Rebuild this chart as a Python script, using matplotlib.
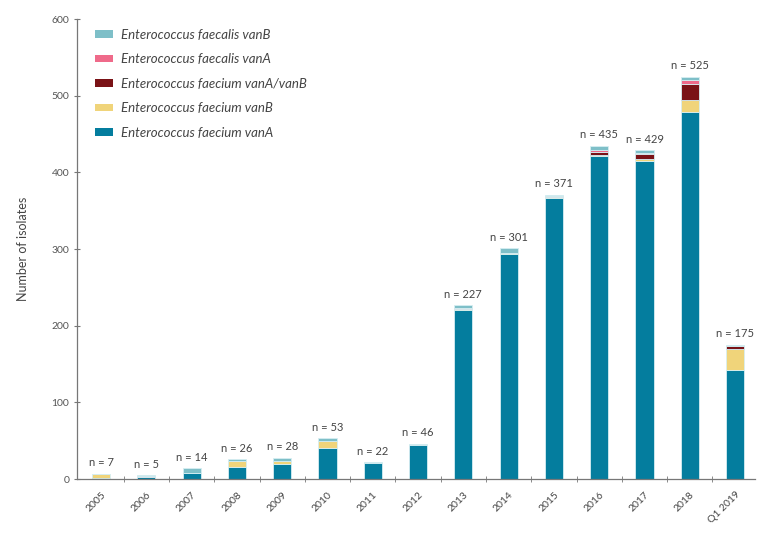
import numpy as np
import matplotlib.pyplot as plt
from matplotlib.ticker import FixedLocator

years = ["2005", "2006", "2007", "2008", "2009", "2010", "2011", "2012",
         "2013", "2014", "2015", "2016", "2017", "2018", "Q1 2019"]

# stacked series, bottom to top
faecium_vanA     = [1, 2, 8, 16, 20, 41, 21, 44, 221, 293, 366, 421, 415, 479, 142]
faecium_vanB     = [6, 1, 0, 7, 4, 8, 0, 0, 1, 2, 2, 2, 2, 16, 28]
faecium_vanAvanB = [0, 0, 0, 0, 0, 0, 0, 0, 0, 0, 0, 3, 7, 20, 3]
faecalis_vanA    = [0, 1, 0, 0, 0, 0, 0, 0, 1, 0, 1, 3, 1, 6, 1]
faecalis_vanB    = [0, 1, 6, 3, 4, 4, 1, 2, 4, 6, 2, 6, 4, 4, 1]
totals = [7, 5, 14, 26, 28, 53, 22, 46, 227, 301, 371, 435, 429, 525, 175]

series = [
    ("Enterococcus faecium vanA", faecium_vanA, "#047D9E"),
    ("Enterococcus faecium vanB", faecium_vanB, "#F0D47A"),
    ("Enterococcus faecium vanA/vanB", faecium_vanAvanB, "#7A1216"),
    ("Enterococcus faecalis vanA", faecalis_vanA, "#EF6A8A"),
    ("Enterococcus faecalis vanB", faecalis_vanB, "#7EBFC8"),
]

plt.rcParams['font.family'] = ['Lato', 'DejaVu Sans']

fig = plt.figure(figsize=(7.74, 5.33), dpi=100)
ax = fig.add_axes([0.0995, 0.1013, 0.876, 0.863])

x = np.arange(len(years))
bottom = np.zeros(len(years))
handles = []
for name, vals, col in series:
    b = ax.bar(x, vals, 0.4, bottom=bottom, color=col, label=name,
               edgecolor="#D6EEF2", linewidth=0.6)
    handles.append(b)
    bottom += np.array(vals)

for xi, t in zip(x, totals):
    ax.text(xi, t + 7, f"n = {t}", ha="center", va="bottom",
            fontsize=8, color="#444444")

ax.set_xlim(-0.53, 14.44)
ax.set_ylim(0, 600)
ax.set_yticks(range(0, 601, 100))
ax.set_xticks(x)
ax.set_xticklabels(years, rotation=45, ha="right", rotation_mode="anchor",
                   fontsize=7.5, color="#444444")
ax.tick_params(axis="x", which="major", length=0, pad=8)
ax.xaxis.set_minor_locator(FixedLocator(np.arange(0.5, 14.0, 1)))
ax.tick_params(axis="x", which="minor", length=4, color="#777777", direction="inout")
ax.tick_params(axis="y", labelsize=7.5, labelcolor="#555555", length=4,
               color="#777777", direction="inout")
for s in ["top", "right"]:
    ax.spines[s].set_visible(False)
for s in ["left", "bottom"]:
    ax.spines[s].set_color("#777777")
    ax.spines[s].set_linewidth(0.9)

ax.set_ylabel("Number of isolates", fontsize=9, color="#444444", labelpad=16)

leg = ax.legend(handles[::-1], [s[0] for s in series][::-1], loc="upper left",
                bbox_to_anchor=(0.009, 1.005), frameon=False, handlelength=1.4,
                handleheight=0.5, handletextpad=0.6, labelspacing=0.95,
                prop={"style": "italic", "size": 9.5})
for t in leg.get_texts():
    t.set_color("#444444")
for h in leg.legend_handles:
    h.set_edgecolor("none")

fig.savefig("out.png", dpi=100)
